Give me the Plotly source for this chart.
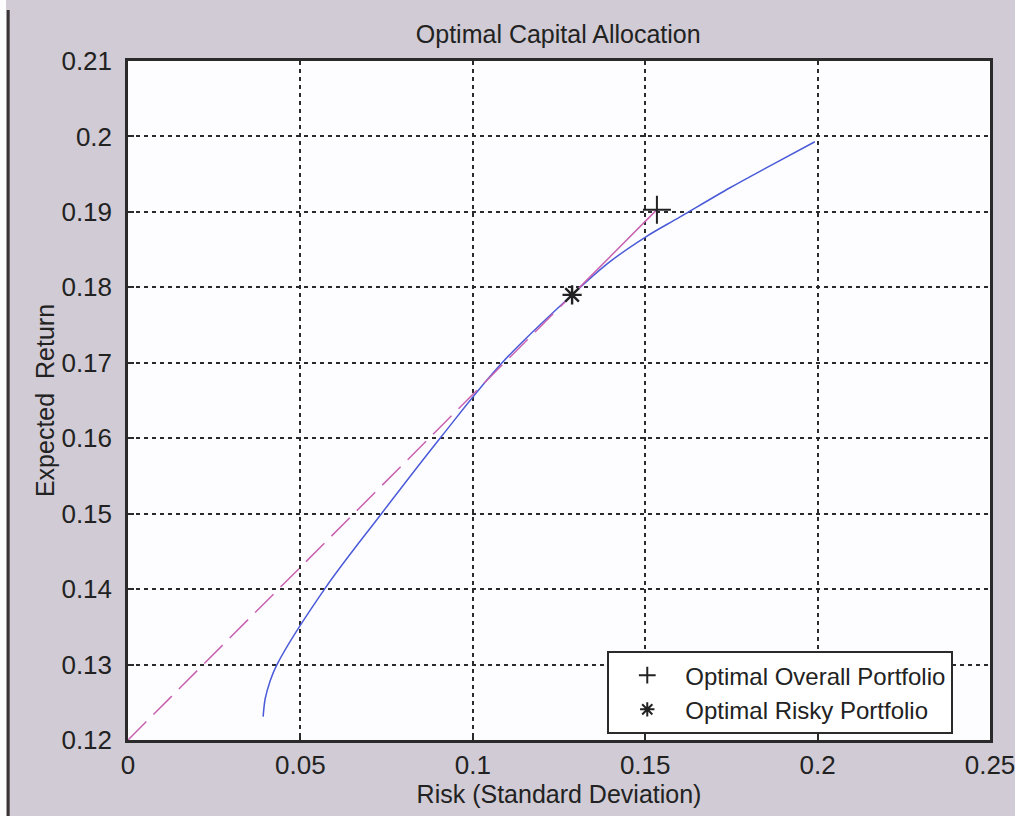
import plotly.graph_objects as go

# Efficient frontier (risk, expected return)
frontier_risk = [0.0392, 0.0398, 0.0412, 0.0432, 0.0570, 0.0735, 0.0905, 0.1085,
                 0.1288, 0.1395, 0.1502, 0.1600, 0.1746, 0.1870, 0.1992]
frontier_ret = [0.1231, 0.1255, 0.1278, 0.1300, 0.1400, 0.1500, 0.1600, 0.1700,
                0.1790, 0.1833, 0.1867, 0.1893, 0.1932, 0.1963, 0.1993]

# Capital allocation line: risk-free asset -> risky portfolio -> overall portfolio
risk_free = (0.0, 0.12)
risky_pf = (0.1288, 0.179)
overall_pf = (0.1534, 0.1903)

x_ticks = [0, 0.05, 0.1, 0.15, 0.2, 0.25]
x_tick_text = ["0", "0.05", "0.1", "0.15", "0.2", "0.25"]
y_ticks = [0.12, 0.13, 0.14, 0.15, 0.16, 0.17, 0.18, 0.19, 0.2, 0.21]
y_tick_text = ["0.12", "0.13", "0.14", "0.15", "0.16", "0.17", "0.18", "0.19", "0.2", "0.21"]

FONT = "Liberation Sans, Arial, sans-serif"
BLUE = "#4a5ad8"
MAGENTA = "#c862b0"

fig = go.Figure()

fig.add_trace(go.Scatter(
    x=frontier_risk, y=frontier_ret, mode="lines",
    line=dict(color=BLUE, width=1.5, shape="spline", smoothing=1.0),
    showlegend=False, hoverinfo="skip"))

fig.add_trace(go.Scatter(
    x=[risk_free[0], risky_pf[0]], y=[risk_free[1], risky_pf[1]], mode="lines",
    line=dict(color=MAGENTA, width=1.5, dash="26px,10px"),
    showlegend=False, hoverinfo="skip"))

fig.add_trace(go.Scatter(
    x=[risky_pf[0], overall_pf[0]], y=[risky_pf[1], overall_pf[1]], mode="lines",
    line=dict(color=MAGENTA, width=1.5),
    showlegend=False, hoverinfo="skip"))

fig.add_trace(go.Scatter(
    x=[overall_pf[0]], y=[overall_pf[1]], mode="markers",
    name="Optimal Overall Portfolio",
    marker=dict(symbol="cross-thin", size=20, color="black",
                line=dict(color="#222", width=2))))

fig.add_trace(go.Scatter(
    x=[risky_pf[0]], y=[risky_pf[1]], mode="markers",
    name="Optimal Risky Portfolio",
    marker=dict(symbol="asterisk", size=16, color="black",
                line=dict(color="#222", width=2.4))))

axis_common = dict(
    showgrid=True, gridcolor="#2a2a2a", gridwidth=1.6, griddash="4px,4px",
    zeroline=False, showline=True, linecolor="#2a2a2a", linewidth=2.5,
    mirror=True, ticks="inside", ticklen=6, tickcolor="#2a2a2a", tickwidth=1.5,
    tickfont=dict(family=FONT, size=26, color="#222"),
    ticklabeloverflow="allow", automargin=False,
)

fig.update_xaxes(range=[0, 0.25], tickvals=x_ticks, ticktext=x_tick_text,
                 ticklabelstandoff=0,
                 title=dict(text="Risk (Standard Deviation)", standoff=2,
                            font=dict(family=FONT, size=25, color="#222")),
                 **axis_common)
fig.update_yaxes(range=[0.12, 0.21], tickvals=y_ticks, ticktext=y_tick_text,
                 ticklabelstandoff=8,
                 title=dict(text="Expected  Return", standoff=0,
                            font=dict(family=FONT, size=25, color="#222")),
                 **axis_common)

# Border strip along the left edge of the figure
fig.add_shape(type="rect", xref="paper", yref="paper",
              x0=-0.1485, x1=-0.1415, y0=-0.2, y1=1.2,
              fillcolor="#fdfdfd", line_width=0, layer="above")
fig.add_shape(type="line", xref="paper", yref="paper",
              x0=-0.139, x1=-0.139, y0=-0.2, y1=1.075,
              line=dict(color="#3a3436", width=3), layer="above")

fig.update_layout(
    width=1015, height=816,
    margin=dict(l=128, r=25, t=61, b=76),
    paper_bgcolor="#d0cbd4",
    plot_bgcolor="#fdfdff",
    title=dict(text="Optimal Capital Allocation", x=0.55, xanchor="center",
               y=0.958, yanchor="middle",
               font=dict(family=FONT, size=25, color="#222")),
    legend=dict(x=0.556, y=0.131, xanchor="left", yanchor="top",
                bgcolor="white", bordercolor="#2a2a2a", borderwidth=2,
                font=dict(family=FONT, size=24, color="#222"),
                itemwidth=66, itemsizing="constant", tracegroupgap=0),
    showlegend=True,
)

fig.write_html("out.html")
